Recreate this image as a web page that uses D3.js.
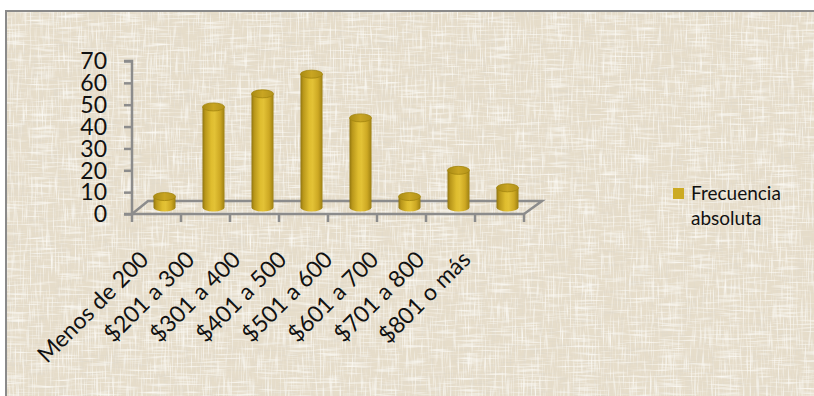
<!DOCTYPE html>
<html>
<head>
<meta charset="utf-8">
<script src="https://cdn.jsdelivr.net/npm/d3@7"></script>
<style>
  html, body { margin: 0; padding: 0; background: #ffffff; }
  svg { display: block; }
  text { font-family: Lato, "Open Sans", "DejaVu Sans", sans-serif; fill: #111; }
</style>
</head>
<body>
<svg id="chart" width="814" height="396"></svg>
<script>
// Income brackets and how many cases fall in each
const categories = ["Menos de 200", "$201 a 300", "$301 a 400", "$401 a 500",
                    "$501 a 600", "$601 a 700", "$701 a 800", "$801 o más"];
const frecuencia = [5, 46, 52, 61, 41, 5, 17, 9];
const yTicks = [0, 10, 20, 30, 40, 50, 60, 70];
const seriesName = ["Frecuencia", "absoluta"];

const svg = d3.select("#chart");
const W = 814, H = 396;

// ---- defs: linen texture, cylinder shading ----
const defs = svg.append("defs");

const linen = defs.append("filter").attr("id", "linen")
  .attr("x", 0).attr("y", 0).attr("width", 1).attr("height", 1)
  .attr("filterUnits", "objectBoundingBox");
// vertical threads (light)
linen.append("feTurbulence").attr("type", "fractalNoise")
  .attr("baseFrequency", "0.6 0.04").attr("numOctaves", 2).attr("seed", 4).attr("result", "nv");
linen.append("feColorMatrix").attr("in", "nv").attr("type", "matrix")
  .attr("values", "0 0 0 0 0.98  0 0 0 0 0.97  0 0 0 0 0.93  2.2 0 0 0 -1.1").attr("result", "lv");
// horizontal threads (dark)
linen.append("feTurbulence").attr("type", "fractalNoise")
  .attr("baseFrequency", "0.04 0.6").attr("numOctaves", 2).attr("seed", 9).attr("result", "nh");
linen.append("feColorMatrix").attr("in", "nh").attr("type", "matrix")
  .attr("values", "0 0 0 0 0.72  0 0 0 0 0.68  0 0 0 0 0.59  1.8 0 0 0 -0.95").attr("result", "dh");
// horizontal threads (light)
linen.append("feTurbulence").attr("type", "fractalNoise")
  .attr("baseFrequency", "0.035 0.5").attr("numOctaves", 2).attr("seed", 17).attr("result", "nh2");
linen.append("feColorMatrix").attr("in", "nh2").attr("type", "matrix")
  .attr("values", "0 0 0 0 0.98  0 0 0 0 0.97  0 0 0 0 0.93  2.2 0 0 0 -1.1").attr("result", "lh");
// vertical threads (dark)
linen.append("feTurbulence").attr("type", "fractalNoise")
  .attr("baseFrequency", "0.5 0.035").attr("numOctaves", 2).attr("seed", 23).attr("result", "nv2");
linen.append("feColorMatrix").attr("in", "nv2").attr("type", "matrix")
  .attr("values", "0 0 0 0 0.74  0 0 0 0 0.70  0 0 0 0 0.61  1.7 0 0 0 -0.9").attr("result", "dv");
const merge = linen.append("feMerge");
merge.append("feMergeNode").attr("in", "SourceGraphic");
merge.append("feMergeNode").attr("in", "dh");
merge.append("feMergeNode").attr("in", "dv");
merge.append("feMergeNode").attr("in", "lv");
merge.append("feMergeNode").attr("in", "lh");

const grad = defs.append("linearGradient").attr("id", "cyl")
  .attr("x1", "0%").attr("x2", "100%").attr("y1", "0%").attr("y2", "0%");
[["0%", "#8f7410"], ["12%", "#b8961a"], ["40%", "#dfbd2f"], ["55%", "#e3c236"],
 ["80%", "#cda823"], ["100%", "#9c7f12"]]
  .forEach(([o, c]) => grad.append("stop").attr("offset", o).attr("stop-color", c));

const capGrad = defs.append("linearGradient").attr("id", "cap")
  .attr("x1", "0%").attr("x2", "100%").attr("y1", "0%").attr("y2", "0%");
[["0%", "#a88a14"], ["50%", "#c9a522"], ["100%", "#b3931a"]]
  .forEach(([o, c]) => capGrad.append("stop").attr("offset", o).attr("stop-color", c));

// ---- chart area background with frame ----
svg.append("rect")
  .attr("x", 6).attr("y", 11).attr("width", W + 10).attr("height", H + 10)
  .attr("fill", "#e6ddca")
  .attr("filter", "url(#linen)");
svg.append("rect")
  .attr("x", 6).attr("y", 11).attr("width", W + 10).attr("height", H + 10)
  .attr("fill", "none").attr("stroke", "#8a8a8a").attr("stroke-width", 2);

// ---- scales ----
const x = d3.scaleBand().domain(categories).range([132, 524]).padding(0);
const y = d3.scaleLinear().domain([0, 70]).range([214, 61]);
const depth = { dx: 16, dy: -13 };   // floor depth offset (front edge -> back edge)
const labelX = d3.scalePoint().domain(categories).range([150, 472]);

const axisColor = "#8c8c8c";
const g = svg.append("g");

// floor outline
const x0 = x.range()[0], x1 = x.range()[1], yf = y(0);
g.append("path")
  .attr("d", `M${x0},${yf} L${x0 + depth.dx},${yf + depth.dy} L${x1 + depth.dx + 2},${yf + depth.dy} L${x1},${yf}`)
  .attr("fill", "none").attr("stroke", axisColor).attr("stroke-width", 2.5);

// value axis (left)
const yAxis = g.append("g").attr("transform", `translate(${x0},0)`)
  .call(d3.axisLeft(y).tickValues(yTicks).tickSize(8).tickPadding(17).tickFormat(d3.format("d")));
yAxis.select(".domain").attr("stroke", axisColor).attr("stroke-width", 2.5)
  .attr("d", `M-8,${y(70)}H0V${y(0)}H-8`);
yAxis.selectAll(".tick line").attr("stroke", axisColor).attr("stroke-width", 2.5);
yAxis.selectAll(".tick text").attr("font-size", 23).attr("fill", "#111")
  .attr("dy", "0.34em")
  .attr("font-family", "Lato, 'Open Sans', sans-serif");

// category axis (front floor edge)
const xAxis = g.append("g").attr("transform", `translate(0,${yf})`)
  .call(d3.axisBottom(x).tickSize(0).tickFormat(""));
xAxis.select(".domain").attr("stroke", axisColor).attr("stroke-width", 2.5)
  .attr("d", `M${x0},0H${x1}`);
xAxis.selectAll(".tick").remove();
const tickPos = categories.map(c => x(c)).concat([x1]);
g.selectAll("line.xtick").data(tickPos).join("line")
  .attr("class", "xtick")
  .attr("x1", d => d).attr("x2", d => d)
  .attr("y1", yf).attr("y2", yf + 8)
  .attr("stroke", axisColor).attr("stroke-width", 2.5);

// category labels, rotated
g.selectAll("text.cat").data(categories).join("text")
  .attr("class", "cat")
  .attr("font-size", 23)
  .attr("text-anchor", "end")
  .attr("transform", d => `translate(${labelX(d)},261) rotate(-45)`)
  .text(d => d);

// cylinders, standing at mid-depth of the floor
const r = 11, ry = 4;
const bars = g.selectAll("g.bar").data(categories.map((c, i) => ({ c, v: frecuencia[i] })))
  .join("g").attr("class", "bar");
bars.each(function (d) {
  const cx = x(d.c) + x.bandwidth() / 2 + depth.dx / 2;
  const yb = y(0) + depth.dy / 2;
  const yt = y(d.v) + depth.dy / 2;
  const sel = d3.select(this);
  sel.append("path")
    .attr("d", `M${cx - r},${yt} L${cx - r},${yb} A${r},${ry} 0 0 0 ${cx + r},${yb} L${cx + r},${yt} Z`)
    .attr("fill", "url(#cyl)");
  sel.append("ellipse")
    .attr("cx", cx).attr("cy", yt).attr("rx", r).attr("ry", ry)
    .attr("fill", "url(#cap)").attr("stroke", "#a3850f").attr("stroke-width", 0.8);
});

// legend
const lg = svg.append("g").attr("transform", "translate(673,188)");
lg.append("rect").attr("width", 11).attr("height", 11).attr("fill", "#ccaa22");
lg.selectAll("text").data(seriesName).join("text")
  .attr("x", 18).attr("y", (d, i) => 12 + i * 25)
  .attr("font-size", 19)
  .text(d => d);
</script>
</body>
</html>
